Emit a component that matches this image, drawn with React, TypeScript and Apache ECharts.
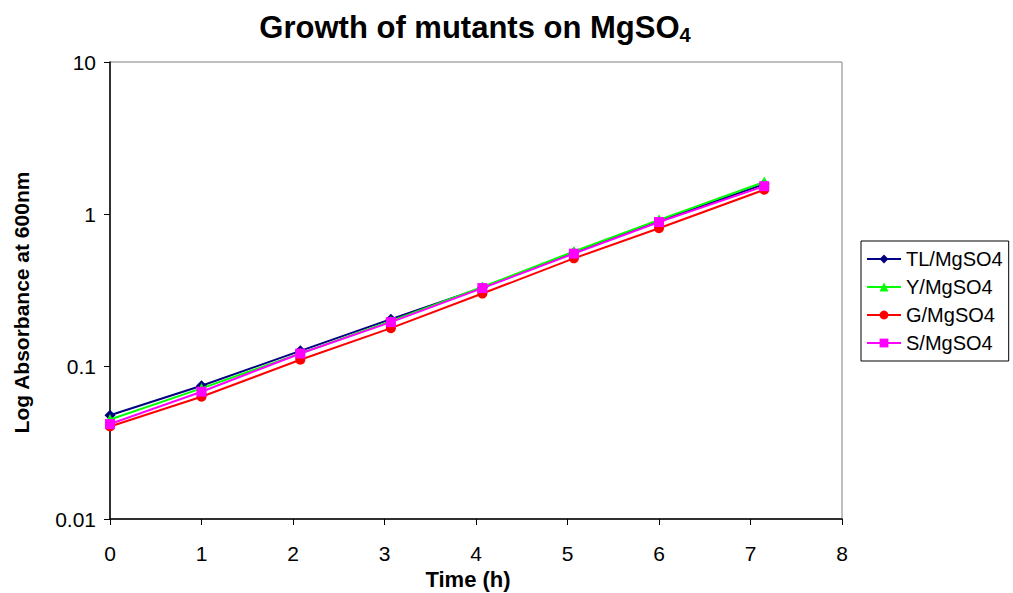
import React, { useEffect, useRef } from "react";
import * as echarts from "echarts";

const times = [0, 1, 2.08, 3.07, 4.07, 5.07, 6.0, 7.15];
const tlValues = [0.048, 0.075, 0.127, 0.205, 0.33, 0.56, 0.9, 1.58];
const yValues = [0.045, 0.072, 0.122, 0.199, 0.334, 0.57, 0.92, 1.63];
const gValues = [0.0405, 0.0635, 0.111, 0.179, 0.302, 0.514, 0.81, 1.45];
const sValues = [0.042, 0.0685, 0.122, 0.196, 0.328, 0.552, 0.89, 1.53];

const seriesNames = ["TL/MgSO4", "Y/MgSO4", "G/MgSO4", "S/MgSO4"];
const seriesColors = ["#000080", "#00ff00", "#ff0000", "#ff00ff"];
const seriesSymbols = ["diamond", "triangle", "circle", "rect"];
const seriesSizes = [11, 11, 10, 10];
const seriesValues = [tlValues, yValues, gValues, sValues];

const FONT = "'Liberation Sans', Arial, sans-serif";

export default function App() {
  const ref = useRef<HTMLDivElement>(null);
  useEffect(() => {
    if (!ref.current) return;
    const chart = echarts.init(ref.current, undefined, { renderer: "svg" });
    chart.setOption({
      animation: false,
      backgroundColor: "#ffffff",
      textStyle: { fontFamily: FONT },
      title: {
        text: "{a|Growth of mutants on MgSO}{b|4}",
        left: 470,
        textAlign: "center",
        top: 4,
        textStyle: {
          rich: {
            a: { fontSize: 31, fontWeight: "bold", color: "#000", fontFamily: FONT },
            b: { fontSize: 20, fontWeight: "bold", color: "#000", fontFamily: FONT, padding: [16, 0, 0, 0] },
          },
        },
      },
      legend: {
        orient: "vertical",
        left: 861,
        top: 241,
        padding: [8, 6, 8, 5],
        itemGap: 8,
        itemWidth: 34,
        itemHeight: 11,
        borderColor: "#000",
        borderWidth: 1,
        borderRadius: 0,
        textStyle: { fontSize: 20, color: "#000", fontFamily: FONT },
        data: seriesNames,
      },
      grid: {
        left: 110,
        right: 171,
        top: 62,
        bottom: 74,
        containLabel: false,
        outerBoundsMode: "none",
        show: true,
        borderColor: "#808080",
        borderWidth: 1,
        backgroundColor: "#ffffff",
      },
      xAxis: {
        type: "value",
        min: 0,
        max: 8,
        interval: 1,
        name: "Time (h)",
        nameLocation: "middle",
        nameGap: 46,
        nameTextStyle: {
          fontSize: 22,
          fontWeight: "bold",
          color: "#000",
          fontFamily: FONT,
          padding: [0, 16, 0, 0],
        },
        axisLine: { show: true, onZero: false, lineStyle: { color: "#000", width: 1.5 } },
        axisTick: { show: true, length: 6, lineStyle: { color: "#000" } },
        axisLabel: { fontSize: 21, color: "#000", margin: 24, fontFamily: FONT },
        splitLine: { show: false },
      },
      yAxis: {
        type: "log",
        logBase: 10,
        min: 0.01,
        max: 10,
        name: "Log Absorbance at 600nm",
        nameLocation: "middle",
        nameGap: 78,
        nameRotate: 90,
        nameTextStyle: {
          fontSize: 21,
          fontWeight: "bold",
          color: "#000",
          fontFamily: FONT,
          padding: [0, 24, 0, 0],
        },
        axisLine: { show: true, lineStyle: { color: "#000", width: 1.5 } },
        axisTick: { show: true, length: 6, lineStyle: { color: "#000" } },
        axisLabel: {
          fontSize: 21,
          color: "#000",
          margin: 14,
          fontFamily: FONT,
          formatter: (v: number) => String(parseFloat(v.toPrecision(3))),
        },
        splitLine: { show: false },
      },
      series: seriesNames.map((name, i) => ({
        name,
        type: "line",
        data: times.map((t, j) => [t, seriesValues[i][j]]),
        symbol: seriesSymbols[i],
        symbolSize: seriesSizes[i],
        showAllSymbol: true,
        lineStyle: { color: seriesColors[i], width: 2 },
        itemStyle: { color: seriesColors[i] },
        z: 2 + i,
      })),
    });
    return () => chart.dispose();
  }, []);
  return (
    <div
      ref={ref}
      style={{ position: "fixed", left: 0, top: 0, width: 1013, height: 593 }}
    />
  );
}
